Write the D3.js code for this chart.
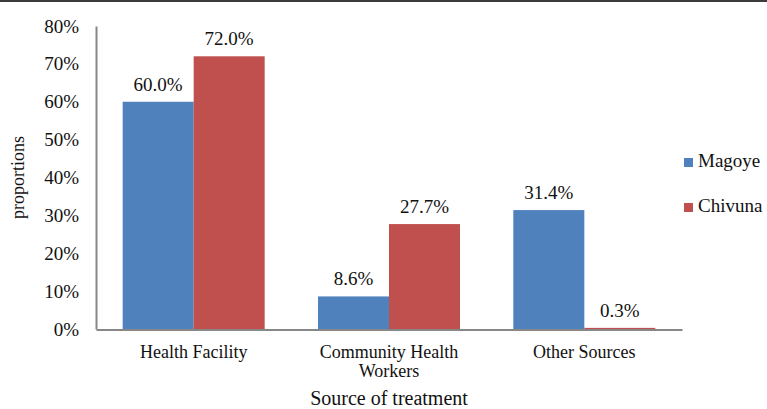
<!DOCTYPE html>
<html>
<head>
<meta charset="utf-8">
<script src="https://cdn.jsdelivr.net/npm/d3@7"></script>
<style>
  body { margin: 0; background: #fff; }
  svg { display: block; }
  svg text { font-family: "Liberation Serif", "Times New Roman", Times, serif; }
</style>
</head>
<body>
<div id="chart"></div>
<script>
var categories = ['Health Facility', 'Community Health Workers', 'Other Sources']
var seriesNames = ['Magoye', 'Chivuna']
var magoye = [0.600, 0.086, 0.314]
var chivuna = [0.720, 0.277, 0.003]
var yTicks = [0, 0.1, 0.2, 0.3, 0.4, 0.5, 0.6, 0.7, 0.8]

var colors = {Magoye: '#4f81bd', Chivuna: '#c0504d'}
var axisColor = '#878787'
var serif = '"Liberation Serif", "Times New Roman", Times, serif'

var width = 767
var height = 409
var plot = {left: 96, right: 682, top: 26, bottom: 329}

var svg = d3.select('#chart').append('svg')
  .attr('width', width)
  .attr('height', height)
  .attr('font-family', serif)

// frame line along the top edge
svg.append('line')
  .attr('x1', 0).attr('x2', width)
  .attr('y1', 1).attr('y2', 1)
  .attr('stroke', '#3c3c3c')
  .attr('stroke-width', 2)

var x = d3.scaleBand()
  .domain(categories)
  .range([plot.left, plot.right])
  .paddingInner(0.273)
  .paddingOuter(0.1365)

var xs = d3.scaleBand()
  .domain(seriesNames)
  .range([0, x.bandwidth()])

var y = d3.scaleLinear()
  .domain([0, 0.8])
  .range([plot.bottom, plot.top])

var rows = categories.map((c, i) => ({cat: c, values: [
  {name: 'Magoye', v: magoye[i]},
  {name: 'Chivuna', v: chivuna[i]}
]}))

// bars
var groups = svg.append('g').selectAll('g')
  .data(rows)
  .join('g')
  .attr('transform', d => `translate(${x(d.cat)},0)`)

groups.selectAll('rect')
  .data(d => d.values)
  .join('rect')
  .attr('x', d => xs(d.name))
  .attr('width', xs.bandwidth())
  .attr('y', d => y(d.v))
  .attr('height', d => y(0) - y(d.v))
  .attr('fill', d => colors[d.name])

groups.selectAll('text')
  .data(d => d.values)
  .join('text')
  .attr('x', d => xs(d.name) + xs.bandwidth() / 2)
  .attr('y', d => y(d.v) - 11)
  .attr('text-anchor', 'middle')
  .attr('font-size', 19)
  .attr('fill', '#111')
  .text(d => d3.format('.1%')(d.v))

// y axis
var yAxis = svg.append('g')
  .attr('transform', `translate(${plot.left},0)`)
  .call(d3.axisLeft(y).tickValues(yTicks).tickFormat(d3.format('.0%')).tickSize(0).tickPadding(17))
yAxis.attr('font-family', serif).attr('font-size', 19)
yAxis.select('.domain').attr('stroke', axisColor).attr('stroke-width', 2)
yAxis.selectAll('text').attr('fill', '#111')

// x axis
var xAxis = svg.append('g')
  .attr('transform', `translate(0,${plot.bottom + 0.5})`)
  .call(d3.axisBottom(x).tickSize(0).tickPadding(0).tickFormat(''))
xAxis.select('.domain').attr('stroke', axisColor).attr('stroke-width', 2)

svg.append('g').selectAll('text')
  .data(categories)
  .join('text')
  .attr('x', d => x(d) + x.bandwidth() / 2)
  .attr('y', 357.5)
  .attr('text-anchor', 'middle')
  .attr('font-size', 18)
  .attr('fill', '#111')
  .text(d => d)
  .each(function(d) { wrap(d3.select(this), x.step() * 0.9) })

function wrap(text, maxW) {
  var words = text.text().split(' ')
  var cx = text.attr('x')
  var line = []
  var tspan = text.text(null).append('tspan').attr('x', cx)
  words.forEach(w => {
    line.push(w)
    tspan.text(line.join(' '))
    if (tspan.node().getComputedTextLength() > maxW && line.length > 1) {
      line.pop()
      tspan.text(line.join(' '))
      line = [w]
      tspan = text.append('tspan').attr('x', cx).attr('dy', 19).text(w)
    }
  })
}

// axis titles
svg.append('text')
  .attr('x', (plot.left + plot.right) / 2)
  .attr('y', 405)
  .attr('text-anchor', 'middle')
  .attr('font-size', 20)
  .attr('fill', '#111')
  .text('Source of treatment')

svg.append('text')
  .attr('transform', `translate(24,${(plot.top + plot.bottom) / 2}) rotate(-90)`)
  .attr('text-anchor', 'middle')
  .attr('font-size', 18)
  .attr('fill', '#111')
  .text('proportions')

// legend
var legend = svg.append('g').selectAll('g')
  .data(seriesNames)
  .join('g')
  .attr('transform', (d, i) => `translate(684,${158 + i * 45})`)

legend.append('rect')
  .attr('width', 9)
  .attr('height', 9)
  .attr('fill', d => colors[d])

legend.append('text')
  .attr('x', 14)
  .attr('y', 9)
  .attr('font-size', 19)
  .attr('fill', '#111')
  .text(d => d)
</script>
</body>
</html>
